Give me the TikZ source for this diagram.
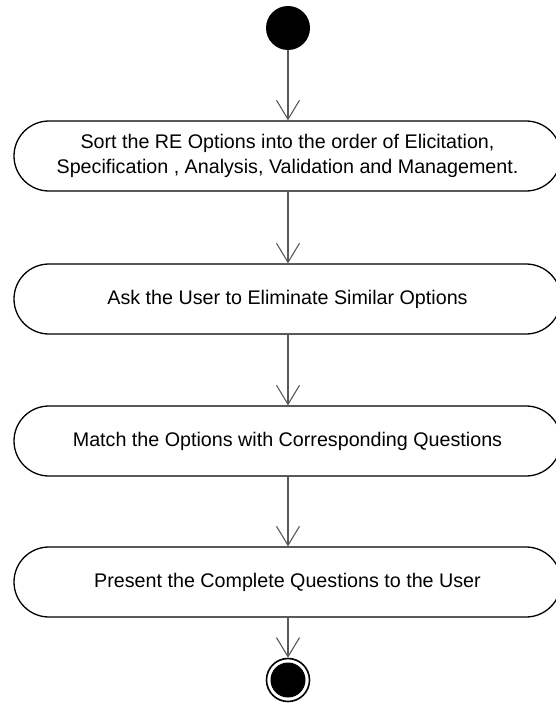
\documentclass[tikz,border=0pt]{standalone}
\usepackage{fontspec}
\setmainfont{Liberation Sans}
\usetikzlibrary{arrows.meta}
\begin{document}
\begin{tikzpicture}[x=1pt,y=1pt,
  activity/.style={draw=black, line width=1.3pt, rounded corners=35pt,
    minimum width=547pt, minimum height=70pt, inner sep=0pt,
    align=center, font=\fontsize{19.7}{24.5}\selectfont},
  flow/.style={draw=black!65, line width=1.1pt,
    -{Straight Barb[length=19pt,width=23pt,line width=1.1pt]}},
  initial/.style={circle, fill=black, minimum size=44pt, inner sep=0pt},
  final/.style={circle, draw=black, line width=1.6pt, minimum size=43pt, inner sep=0pt}
]
\useasboundingbox (0,0) rectangle (555,-706);

\node[initial] (start) at (288,-28) {};

\node[activity] (s1) at (287.5,-156) {Sort the RE Options into the order of Elicitation,\\Specification , Analysis, Validation and Management.};
\node[activity] (s2) at (287.5,-299) {Ask the User to Eliminate Similar Options};
\node[activity] (s3) at (287.5,-441) {Match the Options with Corresponding Questions};
\node[activity] (s4) at (287.5,-582) {Present the Complete Questions to the User};

% final node: outer ring around a filled disc
\node[final] (end) at (288,-680) {};
\fill[black] (end.center) circle (17.5pt);

\draw[flow] (start) -- (start |- s1.north);
\draw[flow] (s1.south -| start) -- (start |- s2.north);
\draw[flow] (s2.south -| start) -- (start |- s3.north);
\draw[flow] (s3.south -| start) -- (start |- s4.north);
\draw[flow] (s4.south -| start) -- (end);
\end{tikzpicture}
\end{document}
